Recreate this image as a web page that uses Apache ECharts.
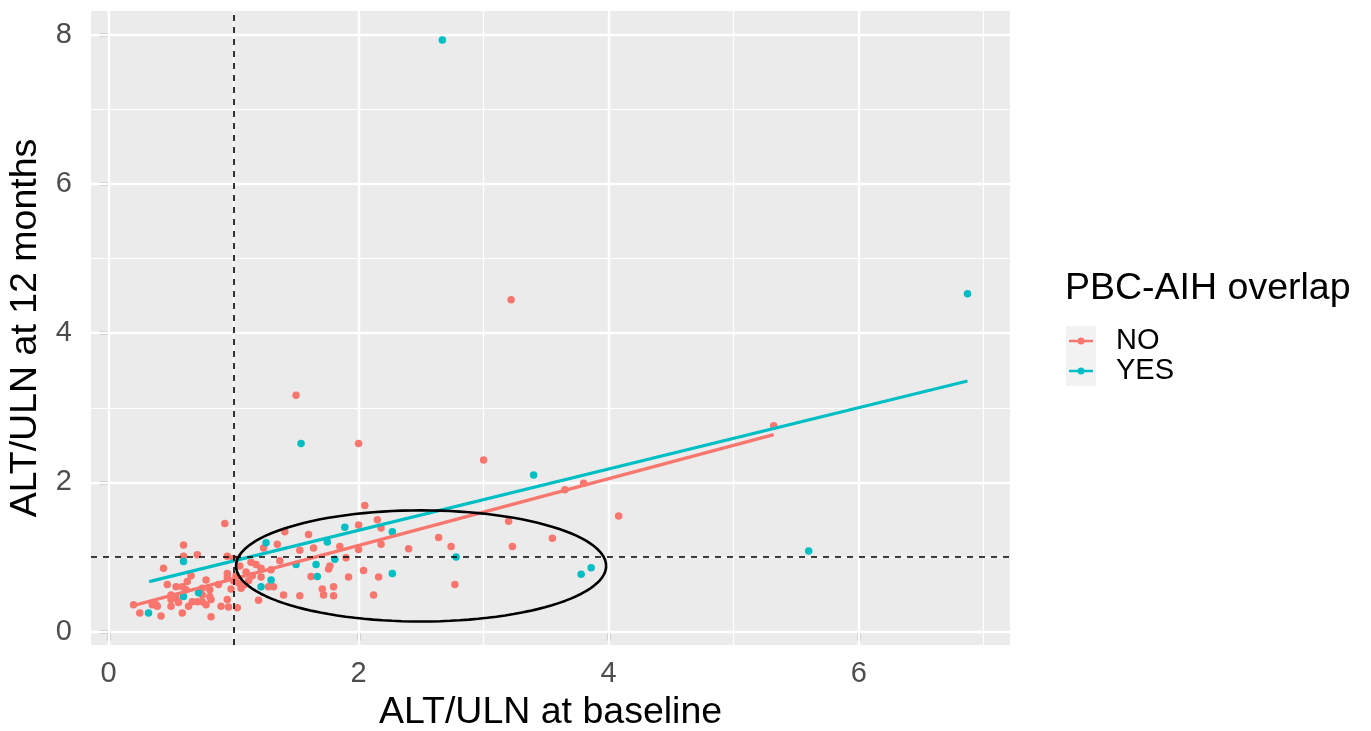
<!DOCTYPE html>
<html>
<head>
<meta charset="utf-8">
<title>ALT/ULN</title>
<script src="https://cdn.jsdelivr.net/npm/echarts@6/dist/echarts.min.js"></script>
<style>
    html, body { margin: 0; padding: 0; background: #fff; }
    #chart { width: 1371px; height: 731px; }
</style>
</head>
<body>
<div id="chart"></div>
<script>
// points: [ALT/ULN baseline, ALT/ULN 12 months]
var noPoints = [
    [3.22,4.45],[1.50,3.17],[2.00,2.52],[3.00,2.30],[5.32,2.76],[3.80,1.99],[3.65,1.90],[4.08,1.55],
    [3.20,1.48],[2.64,1.26],[2.40,1.11],[2.74,1.14],[3.23,1.14],[3.55,1.25],[2.77,0.63],
    [2.05,1.69],[2.00,1.43],[2.15,1.50],[2.18,1.39],[1.41,1.34],[1.60,1.30],[1.35,1.17],[2.18,1.17],
    [2.00,1.10],[1.85,1.14],[1.64,1.12],[1.53,1.09],[1.24,1.12],[1.37,0.95],[1.90,0.99],[1.77,0.88],
    [1.76,0.84],[2.04,0.82],[1.92,0.73],[2.16,0.73],[1.62,0.74],[1.22,0.73],[1.28,0.60],[1.32,0.60],
    [1.80,0.60],[1.71,0.57],[1.72,0.49],[1.80,0.48],[1.40,0.49],[1.53,0.48],[1.20,0.42],[2.12,0.49],
    [1.14,0.93],[1.22,0.85],[1.30,0.83],
    [0.93,1.45],[0.60,1.16],[0.71,1.03],[0.60,1.01],[0.44,0.85],[0.95,1.01],[0.66,0.75],[0.47,0.63],
    [0.54,0.60],[0.63,0.67],[0.75,0.58],[0.81,0.56],[0.88,0.63],[0.98,0.57],[0.95,0.72],[0.78,0.69],
    [0.82,0.43],[0.75,0.40],[0.71,0.40],[0.50,0.43],[0.50,0.34],[0.56,0.39],[0.38,0.36],[0.35,0.36],
    [0.20,0.36],[0.25,0.25],[0.42,0.21],[0.59,0.25],[0.82,0.20],[0.90,0.34],[0.96,0.33],[1.03,0.32],
    [0.95,0.43],[1.06,0.58],[1.04,0.65],[0.95,0.78],[0.50,0.49],[0.54,0.45],[0.67,0.40],[0.75,0.49],
    [0.81,0.47],[0.78,0.36],[0.64,0.34],[0.39,0.34],[0.59,0.60],[0.62,0.56],
    [1.00,0.98],[1.05,0.88],[1.10,0.80],[1.02,0.75],[1.12,0.68],[1.08,0.62],[1.15,0.75],[1.18,0.90],
    [1.00,0.68]
];
var yesPoints = [
    [2.67,7.93],[6.87,4.53],[1.54,2.52],[5.60,1.08],
    [3.40,2.10],[2.27,1.34],[2.78,1.00],[2.27,0.78],[3.78,0.77],[3.86,0.855],
    [1.89,1.40],[1.26,1.19],[1.75,1.20],[1.50,0.90],[1.66,0.90],[1.81,0.97],[1.67,0.74],[1.30,0.69],
    [1.22,0.60],
    [0.60,0.94],[0.60,0.47],[0.72,0.52],[0.32,0.25]
];
// linear fit ends
var noFit = [[0.19,0.345],[5.32,2.64]];
var yesFit = [[0.325,0.67],[6.87,3.36]];

var xTicks = [0, 2, 4, 6];
var yTicks = [0, 2, 4, 6, 8];
var xMinor = [1, 3, 5, 7];
var yMinor = [1, 3, 5, 7];
var refX = 1, refY = 1;

// highlighted region
var ellCenter = [2.5, 0.88];
var ellRadius = [1.48, 0.745];

var ellipse = [];
for (var i = 0; i <= 120; i++) {
    var t = i / 120 * Math.PI * 2;
    ellipse.push([ellCenter[0] + ellRadius[0] * Math.cos(t), ellCenter[1] + ellRadius[1] * Math.sin(t)]);
}

var RED = '#F8766D', TEAL = '#00BFC4';
var FONT = 'Liberation Sans, Arial, sans-serif';
var legendIcon = 'path://M0,2.7L24,2.7L24,5.3L0,5.3Z M8.5,4A3.5,3.5 0 1,1 15.5,4A3.5,3.5 0 1,1 8.5,4Z';

var gridLines = [];
xTicks.forEach(function (v) { gridLines.push({xAxis: v, lineStyle: {width: 2.4}}); });
xMinor.forEach(function (v) { gridLines.push({xAxis: v, lineStyle: {width: 1.2}}); });
yTicks.forEach(function (v) { gridLines.push({yAxis: v, lineStyle: {width: 2.4}}); });
yMinor.forEach(function (v) { gridLines.push({yAxis: v, lineStyle: {width: 1.2}}); });

var chart = echarts.init(document.getElementById('chart'));

var option = {
    animation: false,
    backgroundColor: '#ffffff',
    textStyle: {fontFamily: FONT},
    title: {
        text: 'PBC-AIH overlap',
        left: 1065,
        top: 270,
        padding: 0,
        textStyle: {fontFamily: FONT, fontSize: 37.5, fontWeight: 'normal', color: '#000'}
    },
    legend: {
        data: ['NO', 'YES'],
        orient: 'vertical',
        left: 1069,
        top: 326,
        padding: 0,
        itemGap: 0,
        itemWidth: 24,
        itemHeight: 8,
        icon: legendIcon,
        selectedMode: false,
        textStyle: {fontFamily: FONT, fontSize: 29, color: '#000', lineHeight: 30, padding: [0, 0, 0, 18]}
    },
    graphic: [{
        type: 'rect',
        left: 1066,
        top: 326,
        z: -1,
        shape: {width: 30, height: 60},
        style: {fill: '#F2F2F2'}
    }],
    grid: {
        left: 91, right: 361, top: 11, bottom: 86,
        outerBoundsMode: 'none',
        show: true,
        backgroundColor: '#EBEBEB',
        borderWidth: 0
    },
    xAxis: {
        type: 'value',
        min: -0.14,
        max: 7.21,
        name: 'ALT/ULN at baseline',
        nameLocation: 'middle',
        nameGap: 49,
        nameTextStyle: {fontFamily: FONT, fontSize: 37.5, color: '#000'},
        axisLine: {show: false},
        splitLine: {show: false},
        axisTick: {show: true, customValues: xTicks, length: 9, lineStyle: {color: '#333333', width: 2.4}},
        axisLabel: {customValues: xTicks, fontSize: 29, color: '#4D4D4D', margin: 14, fontFamily: FONT}
    },
    yAxis: {
        type: 'value',
        min: -0.18,
        max: 8.32,
        name: 'ALT/ULN at 12 months',
        nameLocation: 'middle',
        nameRotate: 90,
        nameGap: 45,
        nameTextStyle: {fontFamily: FONT, fontSize: 37.5, color: '#000'},
        axisLine: {show: false},
        splitLine: {show: false},
        axisTick: {show: true, customValues: yTicks, length: 9, lineStyle: {color: '#333333', width: 2.4}},
        axisLabel: {customValues: yTicks, fontSize: 29, color: '#4D4D4D', margin: 19, fontFamily: FONT}
    },
    series: [
        {
            name: 'grid',
            type: 'line',
            data: [],
            silent: true,
            markLine: {
                silent: true,
                z: 1,
                symbol: ['none', 'none'],
                label: {show: false},
                lineStyle: {color: '#ffffff', type: 'solid'},
                emphasis: {disabled: true},
                data: gridLines
            }
        },
        {
            name: 'NO',
            type: 'scatter',
            data: noPoints,
            symbolSize: 7.5,
            z: 3,
            itemStyle: {color: RED, opacity: 1}
        },
        {
            name: 'YES',
            type: 'scatter',
            data: yesPoints,
            symbolSize: 7.5,
            z: 3,
            itemStyle: {color: TEAL, opacity: 1}
        },
        {
            name: 'NO fit',
            type: 'line',
            data: noFit,
            showSymbol: false,
            z: 4,
            lineStyle: {color: RED, width: 3.2},
            itemStyle: {color: RED}
        },
        {
            name: 'YES fit',
            type: 'line',
            data: yesFit,
            showSymbol: false,
            z: 4,
            lineStyle: {color: TEAL, width: 3.2},
            itemStyle: {color: TEAL}
        },
        {
            name: 'ref',
            type: 'line',
            data: [],
            silent: true,
            markLine: {
                silent: true,
                z: 5,
                symbol: ['none', 'none'],
                label: {show: false},
                lineStyle: {color: '#000000', type: [6, 6], width: 1.6},
                emphasis: {disabled: true},
                data: [{xAxis: refX}, {yAxis: refY}]
            }
        },
        {
            name: 'ellipse',
            type: 'line',
            data: ellipse,
            showSymbol: false,
            silent: true,
            z: 6,
            lineStyle: {color: '#000000', width: 2.6},
            itemStyle: {color: '#000000'}
        }
    ]
};

chart.setOption(option);
window.addEventListener('resize', function () {
    chart.resize();
});
</script>
</body>
</html>
